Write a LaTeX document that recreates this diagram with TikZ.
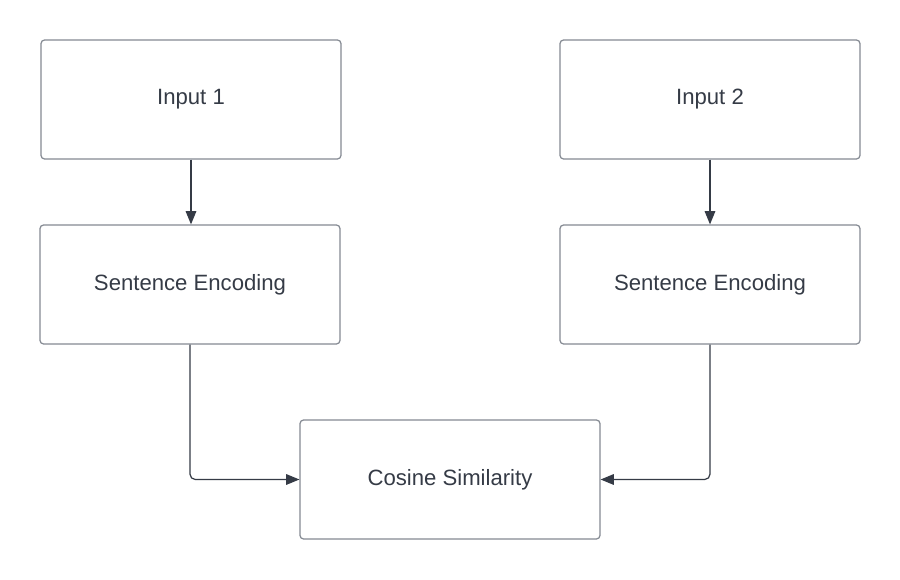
\documentclass[tikz,border=0pt]{standalone}
\usepackage{fontspec}
\setmainfont{Liberation Sans}
\usetikzlibrary{arrows.meta}
\definecolor{boxline}{HTML}{858A93}
\definecolor{inkdark}{HTML}{353B46}
\tikzset{
	blockbox/.style={draw=boxline, line width=0.7pt, rounded corners=2pt, minimum width=6cm, minimum height=2.38cm, text=inkdark, font=\fontsize{12.6}{14}\selectfont},
	flow/.style={draw=inkdark, line width=0.7pt, rounded corners=3pt, -{Triangle[length=7.5pt, width=6pt]}}
}
\begin{document}
\begin{tikzpicture}[x=0.02cm, y=-0.02cm]
		% Frame
		\useasboundingbox[fill=white] (0,0) rectangle (900,580);
		% Boxes
		\node[blockbox] (in1) at (191,99.5) {Input 1};
		\node[blockbox] (in2) at (710,99.5) {Input 2};
		\node[blockbox] (enc1) at (190,284.5) {Sentence Encoding};
		\node[blockbox] (enc2) at (710,284.5) {Sentence Encoding};
		\node[blockbox] (cos) at (450,479.5) {Cosine Similarity};
		% Arrows
		\draw[flow] (in1.south) -- (in1.south |- enc1.north);
		\draw[flow] (in2.south) -- (in2.south |- enc2.north);
		\draw[flow] (enc1.south) |- (cos.west);
		\draw[flow] (enc2.south) |- (cos.east);
	\end{tikzpicture}
\end{document}
